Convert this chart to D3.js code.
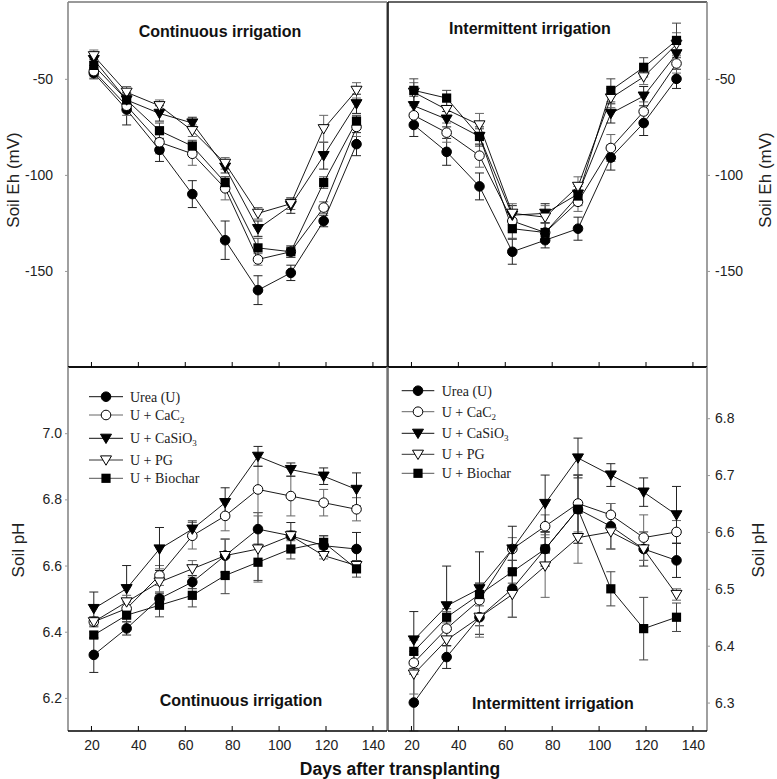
<!DOCTYPE html>
<html><head><meta charset="utf-8">
<script src="https://cdn.jsdelivr.net/npm/d3@7/dist/d3.min.js"></script>
<style>body{margin:0;background:#fff}svg{display:block}</style>
</head><body>
<script>
const days = [21, 35, 49, 63, 77, 91, 105, 119, 133];
const seriesNames = ["Urea (U)", "U + CaC2", "U + CaSiO3", "U + PG", "U + Biochar"];
const xTicks = [20, 40, 60, 80, 100, 120, 140];

// Soil Eh, continuous irrigation
const ehContUrea    = [-47, -66, -87, -110, -134, -160, -151, -124, -84];
const ehContCaC2    = [-46, -64, -83, -89, -107, -144, -140, -117, -75];
const ehContCaSiO3  = [-40, -61, -68, -73, -96, -128, -116, -90, -63];
const ehContPG      = [-38, -57, -64, -77, -94, -120, -115, -76, -56];
const ehContBiochar = [-43, -61, -77, -85, -104, -138, -140, -104, -72];
const ehContUreaErr    = [3, 8, 6, 7, 10, 7.5, 4, 3, 6];
const ehContCaC2Err    = [3, 5, 6, 6, 6, 3, 3, 3, 5];
const ehContCaSiO3Err  = [3, 4, 4, 3, 3, 4, 4, 7, 5];
const ehContPGErr      = [3, 3, 3, 3, 3, 3, 3, 7, 4];
const ehContBiocharErr = [3, 3, 4, 3, 3, 5, 3, 3, 3];

// Soil Eh, intermittent irrigation
const ehIntUrea    = [-74, -88, -106, -140, -134, -128, -91, -73, -50];
const ehIntCaC2    = [-69, -78, -90, -124, -130, -114, -86, -67, -42];
const ehIntCaSiO3  = [-64, -71, -80, -121, -120, -110, -68, -59, -37];
const ehIntPG      = [-57, -66, -74, -120, -122, -106, -60, -49, -32];
const ehIntBiochar = [-56, -60, -80, -128, -130, -111, -56, -44, -30];
const ehIntUreaErr    = [6, 7, 7, 6.5, 4, 6, 6.5, 6.5, 5];
const ehIntCaC2Err    = [5, 5, 6, 5, 5, 5, 7, 5, 5];
const ehIntCaSiO3Err  = [5, 4, 5, 5, 5, 5, 5, 5, 5];
const ehIntPGErr      = [5, 4, 6, 5, 6, 5, 5, 4, 6];
const ehIntBiocharErr = [6, 4, 4, 5, 5, 5, 6, 5, 9];

// Soil pH, continuous irrigation
const phContUrea    = [6.33, 6.41, 6.50, 6.55, 6.63, 6.71, 6.69, 6.66, 6.65];
const phContCaC2    = [6.43, 6.47, 6.57, 6.69, 6.75, 6.83, 6.81, 6.79, 6.77];
const phContCaSiO3  = [6.47, 6.53, 6.65, 6.71, 6.79, 6.93, 6.89, 6.87, 6.83];
const phContPG      = [6.43, 6.49, 6.55, 6.59, 6.63, 6.65, 6.69, 6.63, 6.60];
const phContBiochar = [6.39, 6.45, 6.48, 6.51, 6.57, 6.61, 6.65, 6.67, 6.59];
const phContUreaErr    = [0.053, 0.02, 0.02, 0.02, 0.05, 0.05, 0.04, 0.03, 0.05];
const phContCaC2Err    = [0.015, 0.02, 0.03, 0.04, 0.045, 0.07, 0.06, 0.04, 0.035];
const phContCaSiO3Err  = [0.05, 0.07, 0.065, 0.025, 0.045, 0.03, 0.02, 0.025, 0.05];
const phContPGErr      = [0.015, 0.02, 0.04, 0.025, 0.05, 0.1, 0.015, 0.01, 0.015];
const phContBiocharErr = [0.01, 0.02, 0.035, 0.035, 0.055, 0.055, 0.03, 0.02, 0.025];

// Soil pH, intermittent irrigation
const phIntUrea    = [6.30, 6.38, 6.45, 6.50, 6.57, 6.64, 6.61, 6.57, 6.55];
const phIntCaC2    = [6.37, 6.43, 6.48, 6.57, 6.61, 6.65, 6.63, 6.59, 6.60];
const phIntCaSiO3  = [6.41, 6.47, 6.50, 6.57, 6.65, 6.73, 6.70, 6.67, 6.63];
const phIntPG      = [6.35, 6.41, 6.45, 6.49, 6.54, 6.59, 6.60, 6.57, 6.49];
const phIntBiochar = [6.39, 6.45, 6.49, 6.53, 6.57, 6.64, 6.50, 6.43, 6.45];
const phIntUreaErr    = [0.05, 0.02, 0.03, 0.05, 0.03, 0.06, 0.04, 0.03, 0.03];
const phIntCaC2Err    = [0.02, 0.03, 0.03, 0.02, 0.02, 0.05, 0.02, 0.04, 0.02];
const phIntCaSiO3Err  = [0.05, 0.07, 0.065, 0.04, 0.05, 0.035, 0.02, 0.025, 0.05];
const phIntPGErr      = [0.035, 0.03, 0.035, 0.04, 0.055, 0.045, 0.03, 0.02, 0.01];
const phIntBiocharErr = [0.02, 0.015, 0.02, 0.02, 0.03, 0.06, 0.03, 0.055, 0.025];

const ehTicks = [-50, -100, -150];
const phContTicks = [6.2, 6.4, 6.6, 6.8, 7.0];
const phIntTicks = [6.3, 6.4, 6.5, 6.6, 6.7, 6.8];

const W = 777, H = 779;
const svg = d3.select("body").append("svg").attr("width", W).attr("height", H);

const markers = ["circleFill", "circleOpen", "triFill", "triOpen", "squareFill"];
const errColors = ["#222", "#666", "#222", "#666", "#444"];
const legendLineColors = ["#111", "#666", "#111", "#333", "#555"];

function drawMarker(g, type, x, y) {
  const r = 4.8;
  if (type === "circleFill" || type === "circleOpen") {
    g.append("circle").attr("cx", x).attr("cy", y).attr("r", r)
      .attr("fill", type === "circleFill" ? "#000" : "#fff").attr("stroke", "#000").attr("stroke-width", 1);
  } else if (type === "triFill" || type === "triOpen") {
    const s = 5.5;
    g.append("path").attr("d", `M${x - s},${y - s * 0.75}L${x + s},${y - s * 0.75}L${x},${y + s * 0.95}Z`)
      .attr("fill", type === "triFill" ? "#000" : "#fff").attr("stroke", "#000").attr("stroke-width", 1);
  } else {
    const s = 4.6;
    g.append("rect").attr("x", x - s).attr("y", y - s).attr("width", 2 * s).attr("height", 2 * s)
      .attr("fill", "#000");
  }
}

const sans = "Liberation Sans, Arial, sans-serif";

function panel(cfg) {
  const x = d3.scaleLinear().domain([10, 146]).range([cfg.x0, cfg.x1]);
  const y = d3.scaleLinear().domain(cfg.yDomain).range([cfg.y1, cfg.y0]);
  const g = svg.append("g");

  // frame
  g.append("line").attr("x1", cfg.x0).attr("x2", cfg.x1).attr("y1", cfg.y0).attr("y2", cfg.y0)
    .attr("stroke", cfg.topColor || "#777").attr("stroke-width", 1.3);
  g.append("line").attr("x1", cfg.x0).attr("x2", cfg.x0).attr("y1", cfg.y0).attr("y2", cfg.y1)
    .attr("stroke", cfg.leftColor).attr("stroke-width", 1.6);
  g.append("line").attr("x1", cfg.x1).attr("x2", cfg.x1).attr("y1", cfg.y0).attr("y2", cfg.y1)
    .attr("stroke", cfg.rightColor).attr("stroke-width", 1.6);

  // x axis
  const xa = g.append("g").attr("transform", `translate(0,${cfg.y1})`)
    .call(d3.axisBottom(x).tickValues(xTicks).tickSize(0).tickFormat(cfg.showXLabels ? d => String(d) : ""));
  xa.select(".domain").remove();
  xa.selectAll("text").attr("dy", "1.15em").style("font-family", sans)
    .style("font-size", "14px").attr("fill", "#222");
  g.append("line").attr("x1", cfg.x0).attr("x2", cfg.x1).attr("y1", cfg.y1).attr("y2", cfg.y1)
    .attr("stroke", "#000").attr("stroke-width", 1.6);
  g.selectAll(".xt").data(xTicks).enter().append("line")
    .attr("x1", d => x(d)).attr("x2", d => x(d)).attr("y1", cfg.y1).attr("y2", cfg.y1 - 5)
    .attr("stroke", "#000").attr("stroke-width", 1);

  // y axis
  const axisGen = cfg.side === "left" ? d3.axisLeft(y) : d3.axisRight(y);
  const ya = g.append("g").attr("transform", `translate(${cfg.side === "left" ? cfg.x0 : cfg.x1},0)`)
    .call(axisGen.tickValues(cfg.yTicks).tickSize(3).tickPadding(cfg.tickPad).tickFormat(cfg.fmt));
  ya.select(".domain").remove();
  ya.selectAll("line").attr("stroke", "#999");
  ya.selectAll("text").style("font-family", sans)
    .style("font-size", "14px").attr("fill", "#222");

  // error bars
  cfg.series.forEach((vals, i) => {
    const errs = cfg.errs[i];
    const sg = g.append("g");
    vals.forEach((v, j) => {
      const xx = x(days[j]);
      const ya1 = y(v + errs[j]), ya2 = y(v - errs[j]);
      sg.append("line").attr("x1", xx).attr("x2", xx).attr("y1", ya1).attr("y2", ya2)
        .attr("stroke", errColors[i]).attr("stroke-width", 1);
      [ya1, ya2].forEach(yy => sg.append("line").attr("x1", xx - 4.5).attr("x2", xx + 4.5)
        .attr("y1", yy).attr("y2", yy).attr("stroke", errColors[i]).attr("stroke-width", 1));
    });
  });
  // lines
  cfg.series.forEach((vals) => {
    const line = d3.line().x((d, j) => x(days[j])).y(d => y(d));
    g.append("path").datum(vals).attr("d", line).attr("fill", "none")
      .attr("stroke", "#000").attr("stroke-width", 0.9);
  });
  // markers
  cfg.series.forEach((vals, i) => {
    const mg = g.append("g");
    vals.forEach((v, j) => drawMarker(mg, markers[i], x(days[j]), y(v)));
  });

  // title
  g.append("text").attr("x", cfg.titleX).attr("y", cfg.titleY).attr("text-anchor", "middle")
    .style("font-family", sans).style("font-weight", "bold")
    .style("font-size", "16px").attr("fill", "#111").text(cfg.title);

  // legend
  if (cfg.legend) {
    const L = cfg.legend;
    seriesNames.forEach((name, i) => {
      const ly = L.rows[i];
      g.append("line").attr("x1", L.lx0).attr("x2", L.lx1).attr("y1", ly).attr("y2", ly)
        .attr("stroke", legendLineColors[i]).attr("stroke-width", 1);
      drawMarker(g, markers[i], (L.lx0 + L.lx1) / 2, ly);
      const t = g.append("text").attr("x", L.tx).attr("y", ly).attr("dy", "0.35em")
        .style("font-family", "Liberation Serif, Times New Roman, serif").style("font-size", "14px")
        .attr("fill", "#222");
      if (name === "U + CaC2") {
        t.append("tspan").text("U + CaC");
        t.append("tspan").attr("font-size", "9px").attr("dy", "3").text("2");
      } else if (name === "U + CaSiO3") {
        t.append("tspan").text("U + CaSiO");
        t.append("tspan").attr("font-size", "9px").attr("dy", "3").text("3");
      } else {
        t.text(name);
      }
    });
  }
}

panel({ x0: 68, x1: 387, y0: 2, y1: 367, yDomain: [-200, -10], yTicks: ehTicks, side: "left", tickPad: 12,
  fmt: d => String(d), leftColor: "#888", rightColor: "#888", showXLabels: false,
  series: [ehContUrea, ehContCaC2, ehContCaSiO3, ehContPG, ehContBiochar],
  errs: [ehContUreaErr, ehContCaC2Err, ehContCaSiO3Err, ehContPGErr, ehContBiocharErr],
  title: "Continuous irrigation", titleX: 220, titleY: 37 });

panel({ x0: 388, x1: 707, y0: 2, y1: 367, yDomain: [-200, -10], yTicks: ehTicks, side: "right", tickPad: 5,
  fmt: d => String(d), leftColor: "#111", rightColor: "#888", topColor: "#333", showXLabels: false,
  series: [ehIntUrea, ehIntCaC2, ehIntCaSiO3, ehIntPG, ehIntBiochar],
  errs: [ehIntUreaErr, ehIntCaC2Err, ehIntCaSiO3Err, ehIntPGErr, ehIntBiocharErr],
  title: "Intermittent irrigation", titleX: 530, titleY: 34 });

panel({ x0: 68, x1: 387, y0: 367, y1: 731, yDomain: [6.1, 7.2], yTicks: phContTicks, side: "left", tickPad: 3,
  fmt: d3.format(".1f"), leftColor: "#888", rightColor: "#888", topColor: "#000", showXLabels: true,
  series: [phContUrea, phContCaC2, phContCaSiO3, phContPG, phContBiochar],
  errs: [phContUreaErr, phContCaC2Err, phContCaSiO3Err, phContPGErr, phContBiocharErr],
  title: "Continuous irrigation", titleX: 241, titleY: 706,
  legend: { rows: [396.7, 415, 438.3, 460, 478.3], lx0: 89, lx1: 123, tx: 130 } });

panel({ x0: 388, x1: 707, y0: 367, y1: 731, yDomain: [6.25, 6.89], yTicks: phIntTicks, side: "right", tickPad: 5,
  fmt: d3.format(".1f"), leftColor: "#666", rightColor: "#888", topColor: "#000", showXLabels: true,
  series: [phIntUrea, phIntCaC2, phIntCaSiO3, phIntPG, phIntBiochar],
  errs: [phIntUreaErr, phIntCaC2Err, phIntCaSiO3Err, phIntPGErr, phIntBiocharErr],
  title: "Intermittent irrigation", titleX: 553, titleY: 709,
  legend: { rows: [390.7, 411.7, 433.3, 454.3, 473.3], lx0: 401.7, lx1: 434.3, tx: 441.7 } });

// axis titles
svg.append("text").attr("x", 400).attr("y", 775).attr("text-anchor", "middle")
  .style("font-family", sans).style("font-weight", "bold").style("font-size", "17.5px").attr("fill", "#111")
  .text("Days after transplanting");
function yTitle(txt, x, y) {
  svg.append("text").attr("transform", `translate(${x},${y}) rotate(-90)`).attr("text-anchor", "middle")
    .attr("dy", "0.35em").style("font-family", sans).style("font-size", "17px").attr("fill", "#222").text(txt);
}
yTitle("Soil Eh (mV)", 13, 180);
yTitle("Soil pH", 18, 550);
yTitle("Soil Eh (mV)", 765, 180);
yTitle("Soil pH", 758, 550);
</script>
</body></html>
